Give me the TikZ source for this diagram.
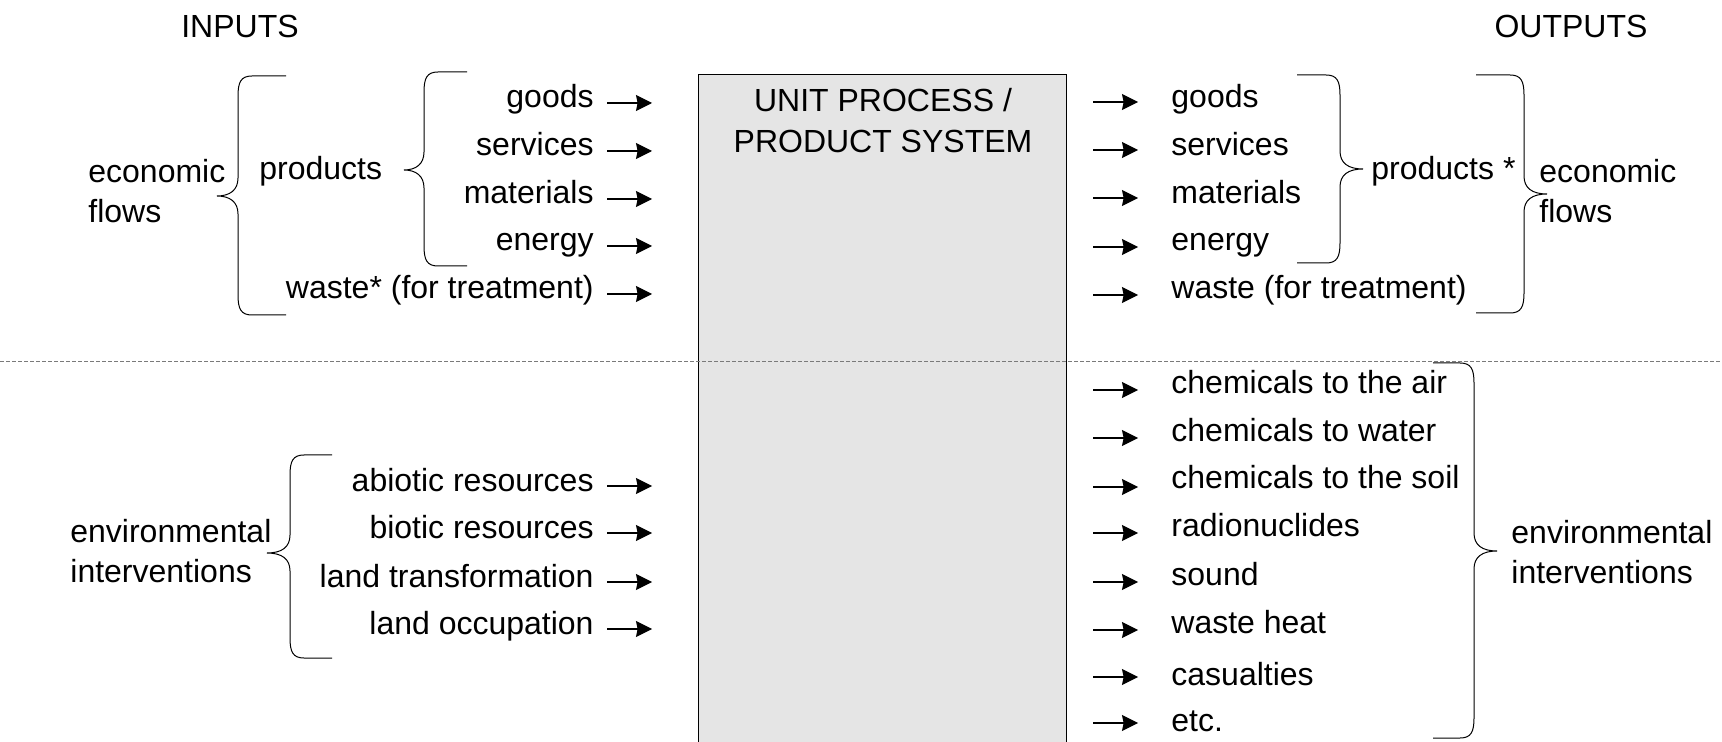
\documentclass[tikz,border=0pt]{standalone}
\usepackage{fontspec}
\setmainfont{Liberation Sans}
\usetikzlibrary{arrows.meta}
\definecolor{boxfill}{HTML}{E5E5E5}
\definecolor{sepline}{HTML}{7A7A7A}

% Curly brace: #1 side (1 = ends point right, -1 = ends point left),
% #2 x of the ends, #3 x of the spine, #4 x of the tip,
% #5 top y, #6 tip y, #7 bottom y
\newcommand\DrawBrace[7]{%
  \draw[bracket] (#2,#5) -- ({#3+(#1)*14},#5)
    .. controls ({#3+(#1)*3},#5) and (#3,#5+6) .. (#3,#5+20)
    -- (#3,#6-18)
    .. controls (#3,#6-6) and ({#3-(#1)*8},#6) .. (#4,#6)
    .. controls ({#3-(#1)*8},#6) and (#3,#6+6) .. (#3,#6+18)
    -- (#3,#7-20)
    .. controls (#3,#7-6) and ({#3+(#1)*3},#7) .. ({#3+(#1)*14},#7)
    -- (#2,#7);}

\begin{document}
\begin{tikzpicture}[x=0.5pt,y=-0.5pt,
  lbl/.style={inner sep=0pt, font=\fontsize{16pt}{20pt}\selectfont},
  flow/.style={-{Stealth[length=8pt,width=8pt,inset=0.8pt]}, line width=0.6pt},
  bracket/.style={line width=0.5pt},
  procbox/.style={draw, fill=boxfill, line width=0.6pt, inner sep=0pt},
  sepdash/.style={draw=sepline, line width=0.5pt, dash pattern=on 2pt off 1pt}]

\useasboundingbox (0,0) rectangle (1722,742);
\clip (0,0) rectangle (1722,742);

% headings
\node[lbl, anchor=base] (inputs) at (240,38) {INPUTS};
\node[lbl, anchor=base] (outputs) at (1571,38) {OUTPUTS};

% the process box
\node[procbox, anchor=north west, minimum width=184pt, minimum height=360pt] (proc) at (698,74) {};
\node[lbl, anchor=base] (title1) at (883,112) {UNIT PROCESS /};
\node[lbl, anchor=base] (title2) at (883,153) {PRODUCT SYSTEM};

% boundary between economic flows and environmental interventions
\coordinate (sepW) at (0,362);
\coordinate (sepE) at (1722,362);
\draw[sepdash] (sepW) -- (sepE);

% inputs
\foreach \n/\yb/\ya/\t in {ig/108/103/goods, is/156/151/services,
    im/204/199/materials, ie/251/246/energy, iw/299/294/{waste* (for treatment)},
    ia/491/486/abiotic resources, ib/538/533/biotic resources,
    it/587/582/land transformation, io/634/629/land occupation}{
  \node[lbl, anchor=base east] (\n) at (594,\yb) {\t};
  \draw[flow] (\n.base east) ++(13,\ya-\yb) -- ++(45,0);
}

% outputs
\foreach \n/\yb/\ya/\t in {og/108/102/goods, os/156/150/services,
    om/204/198/materials, oe/251/247/energy, ow/299/295/{waste (for treatment)},
    oa/393.5/390/chemicals to the air, ob/441.5/438/chemicals to water,
    oc/488.5/487/chemicals to the soil, od/536.5/533/radionuclides,
    oe2/585.5/582/sound, of/633.5/630/waste heat,
    og2/685.5/677/casualties, oh/731.5/723/etc.}{
  \node[lbl, anchor=base west] (\n) at (1171,\yb) {\t};
  \draw[flow] (\n.base west) ++(-78,\ya-\yb) -- ++(45,0);
}

% group labels
\node[lbl, anchor=base west] (ecoL1) at (88,183) {economic};
\node[lbl, anchor=base west] (ecoL2) at (88,223) {flows};
\node[lbl, anchor=base west] (prodL) at (259,180) {products};
\node[lbl, anchor=base west] (prodR) at (1371,180) {products *};
\node[lbl, anchor=base west] (ecoR1) at (1539,183) {economic};
\node[lbl, anchor=base west] (ecoR2) at (1539,223) {flows};
\node[lbl, anchor=base west] (envL1) at (70,542) {environmental};
\node[lbl, anchor=base west] (envL2) at (70,582) {interventions};
\node[lbl, anchor=base west] (envR1) at (1511,543) {environmental};
\node[lbl, anchor=base west] (envR2) at (1511,583) {interventions};

% braces
\DrawBrace{1}{286}{238}{217}{76}{196}{315}
\DrawBrace{1}{467}{424}{404}{72}{170}{266}
\DrawBrace{-1}{1297}{1340}{1363}{75}{169}{263}
\DrawBrace{-1}{1476}{1524}{1547}{75}{194}{313}
\DrawBrace{1}{332}{290}{267}{455}{553}{658}
\DrawBrace{-1}{1433}{1474}{1497}{363}{551}{738}
\end{tikzpicture}
\end{document}
